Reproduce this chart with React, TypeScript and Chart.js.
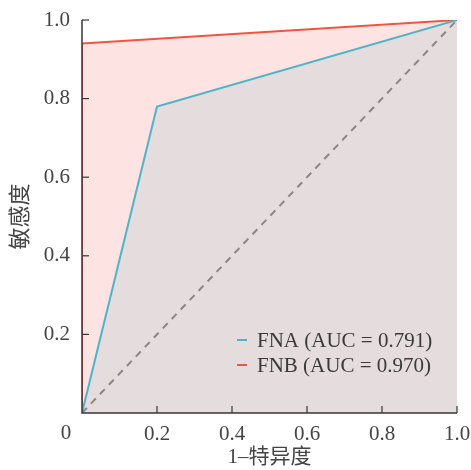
import React, { useEffect, useRef } from "react";
import { Chart, registerables } from "chart.js";

Chart.register(...registerables);

const fnaX = [0, 0.2, 1];
const fnaY = [0, 0.78, 1];
const fnbX = [0, 0, 1];
const fnbY = [0, 0.94, 1];
const refX = [0, 1];
const refY = [0, 1];
const seriesLabels = ["FNA (AUC = 0.791)", "FNB (AUC = 0.970)"];
const tickValues = [0, 0.2, 0.4, 0.6, 0.8, 1.0];
const tickLabels = ["0", "0.2", "0.4", "0.6", "0.8", "1.0"];
const xTitle = "1–特异度";
const yTitle = "敏感度";

const FONT = "'Liberation Serif', 'Noto Sans CJK SC', serif";
const AXIS = "#3a3434";

const axesPlugin = {
  id: "axesPlugin",
  afterDatasetsDraw(chart: any) {
    const { ctx, chartArea, scales } = chart;
    const xs = scales.x;
    const ys = scales.y;
    ctx.save();
    ctx.strokeStyle = AXIS;
    ctx.lineWidth = 1.5;
    ctx.beginPath();
    ctx.moveTo(chartArea.left, chartArea.top);
    ctx.lineTo(chartArea.left, chartArea.bottom);
    ctx.lineTo(chartArea.right, chartArea.bottom);
    ctx.stroke();
    ctx.lineWidth = 1.2;
    tickValues.forEach((v) => {
      if (v === 0) return;
      const px = xs.getPixelForValue(v);
      ctx.beginPath();
      ctx.moveTo(px, chartArea.bottom);
      ctx.lineTo(px, chartArea.bottom - 7);
      ctx.stroke();
      const py = ys.getPixelForValue(v);
      ctx.beginPath();
      ctx.moveTo(chartArea.left, py);
      ctx.lineTo(chartArea.left + 7, py);
      ctx.stroke();
    });
    ctx.fillStyle = "#444";
    ctx.font = `21px ${FONT}`;
    ctx.textAlign = "center";
    ctx.textBaseline = "top";
    ctx.fillText(tickLabels[0], chartArea.left - 16, chartArea.bottom + 10);
    ctx.restore();
  },
  afterDraw(chart: any) {
    const { ctx, chartArea } = chart;
    ctx.save();
    ctx.font = `21px ${FONT}`;
    ctx.textBaseline = "middle";
    ctx.textAlign = "left";
    const x0 = chartArea.right - 220;
    const y0 = chartArea.bottom - 73;
    const items = chart.data.datasets.filter((ds: any) => ds.label);
    items.forEach((ds: any, i: number) => {
      const y = y0 + i * 25;
      ctx.strokeStyle = ds.borderColor;
      ctx.lineWidth = 2;
      ctx.beginPath();
      ctx.moveTo(x0, y);
      ctx.lineTo(x0 + 10, y);
      ctx.stroke();
      ctx.fillStyle = "#3a3a3a";
      ctx.fillText(ds.label, x0 + 20, y + 1);
    });
    ctx.restore();
  },
};

export default function App() {
  const ref = useRef<HTMLCanvasElement>(null);
  useEffect(() => {
    document.body.style.margin = "0";
    const chart = new Chart(ref.current as HTMLCanvasElement, {
      type: "line",
      data: {
        datasets: [
          {
            label: "",
            data: refX.map((x, i) => ({ x, y: refY[i] })),
            borderColor: "#8a8586",
            borderWidth: 2,
            borderDash: [7, 6],
            pointRadius: 0,
            fill: false,
          },
          {
            label: seriesLabels[0],
            data: fnaX.map((x, i) => ({ x, y: fnaY[i] })),
            borderColor: "#4db4c9",
            backgroundColor: "#e4dcdd",
            borderWidth: 2,
            pointRadius: 0,
            fill: "origin",
            tension: 0,
          },
          {
            label: seriesLabels[1],
            data: fnbX.map((x, i) => ({ x, y: fnbY[i] })),
            borderColor: "#f0563f",
            backgroundColor: "#fde3e1",
            borderWidth: 2,
            pointRadius: 0,
            fill: "origin",
            tension: 0,
          },
        ],
      },
      options: {
        animation: false,
        responsive: false,
        devicePixelRatio: 1,
        layout: { padding: { top: 20, right: 14, left: 0, bottom: 0 } },
        plugins: { legend: { display: false }, tooltip: { enabled: false } },
        scales: {
          x: {
            type: "linear",
            min: 0,
            max: 1,
            afterFit: (s: any) => {
              s.height = 57;
              s.paddingLeft = 0;
              s.paddingRight = 0;
            },
            afterBuildTicks: (s: any) => {
              s.ticks = tickValues.map((v) => ({ value: v }));
            },
            grid: { display: false, drawTicks: false },
            border: { display: false },
            ticks: {
              padding: 9,
              color: "#444",
              font: { family: FONT, size: 21 },
              maxRotation: 0,
              callback: (v: any) => {
                const i = tickValues.indexOf(Number(v));
                return i > 0 ? tickLabels[i] : "";
              },
            },
            title: {
              display: true,
              text: xTitle,
              color: "#444",
              font: { family: FONT, size: 21 },
              padding: { top: 0, bottom: 0 },
            },
          },
          y: {
            type: "linear",
            min: 0,
            max: 1,
            afterFit: (s: any) => {
              s.width = 82;
              s.paddingTop = 0;
              s.paddingBottom = 0;
            },
            afterBuildTicks: (s: any) => {
              s.ticks = tickValues.map((v) => ({ value: v }));
            },
            grid: { display: false, drawTicks: false },
            border: { display: false },
            ticks: {
              padding: 12,
              color: "#444",
              font: { family: FONT, size: 21 },
              callback: (v: any) => {
                const i = tickValues.indexOf(Number(v));
                return i > 0 ? tickLabels[i] : "";
              },
            },
            title: {
              display: true,
              text: yTitle,
              color: "#444",
              font: { family: FONT, size: 22 },
              padding: { top: 8, bottom: 0 },
            },
          },
        },
      },
      plugins: [axesPlugin],
    });
    return () => chart.destroy();
  }, []);
  return <canvas ref={ref} width={471} height={470} />;
}
